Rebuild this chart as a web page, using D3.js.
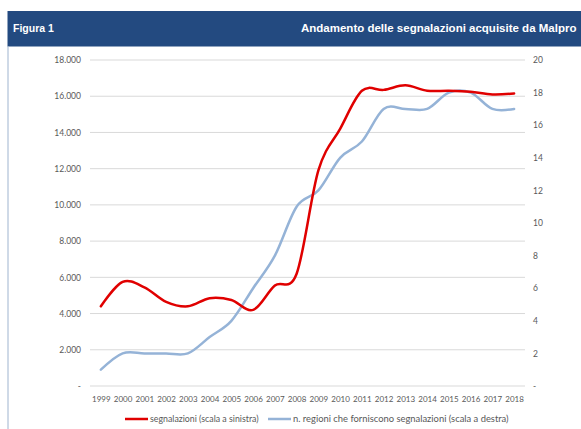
<!DOCTYPE html>
<html>
<head>
<meta charset="utf-8">
<script src="https://cdn.jsdelivr.net/npm/d3@7"></script>
<style>
  body { margin: 0; background: #fff; overflow: hidden; }
  svg { display: block; }
</style>
</head>
<body>
<div id="chart"></div>
<script>
// anni sull'asse x
const years = ["1999", "2000", "2001", "2002", "2003", "2004", "2005", "2006", "2007", "2008",
               "2009", "2010", "2011", "2012", "2013", "2014", "2015", "2016", "2017", "2018"];
// segnalazioni (scala a sinistra)
const segnalazioni = [4400, 5750, 5450, 4650, 4400, 4850, 4750, 4200, 5550, 6200,
                      11900, 14200, 16300, 16350, 16600, 16300, 16300, 16250, 16100, 16150];
// n. regioni che forniscono segnalazioni (scala a destra)
const regioni = [1, 2, 2, 2, 2, 3, 4, 6, 8, 11, 12, 14, 15, 17, 17, 17, 18, 18, 17, 17];
const leftTicks = [0, 2000, 4000, 6000, 8000, 10000, 12000, 14000, 16000, 18000];
const rightTicks = [0, 2, 4, 6, 8, 10, 12, 14, 16, 18, 20];
const legendLabels = ["segnalazioni (scala a sinistra)", "n. regioni che forniscono segnalazioni (scala a destra)"];

const width = 581, height = 429;
const red = "#e00000", blue = "#95b3d7", grey = "#595959";

const svg = d3.select("#chart").append("svg")
    .attr("width", width)
    .attr("height", height);

// header band
svg.append("rect")
    .attr("x", 7.5).attr("y", 11)
    .attr("width", width - 7.5).attr("height", 35.5)
    .attr("fill", "#234a80");
svg.append("line")
    .attr("x1", 8).attr("x2", 8)
    .attr("y1", 46).attr("y2", height)
    .attr("stroke", "#9fb4cf").attr("stroke-width", 1);

svg.append("text")
    .attr("x", 13).attr("y", 32)
    .attr("fill", "#fff")
    .style("font-family", "Liberation Sans, Arial, sans-serif")
    .style("font-weight", "bold")
    .style("font-size", "10.5px")
    .text("Figura 1");
svg.append("text")
    .attr("x", 301).attr("y", 32)
    .attr("fill", "#fff")
    .style("font-family", "Liberation Sans, Arial, sans-serif")
    .style("font-weight", "bold")
    .style("font-size", "11.5px")
    .text("Andamento delle segnalazioni acquisite da Malpro");

// scales
const x = d3.scalePoint().domain(years).range([90, 525]).padding(0.5);
const yL = d3.scaleLinear().domain([0, 18000]).range([386, 60]);
const yR = d3.scaleLinear().domain([0, 20]).range([386, 60]);

const fmt = d3.formatLocale({ decimal: ",", thousands: ".", grouping: [3], currency: ["€", ""] }).format(",");

const font = "Lato, 'Open Sans', sans-serif";

// gridlines
svg.append("g").selectAll("line")
    .data(leftTicks)
    .enter().append("line")
    .attr("x1", 90).attr("x2", 525)
    .attr("y1", d => yL(d)).attr("y2", d => yL(d))
    .attr("stroke", "#d9d9d9").attr("stroke-width", 1);

// left axis
const leftAxis = d3.axisLeft(yL).tickValues(leftTicks).tickSize(0).tickPadding(0)
    .tickFormat(d => d === 0 ? "-" : fmt(d));
const gl = svg.append("g").attr("transform", "translate(81,0)").call(leftAxis);
gl.select(".domain").remove();
gl.selectAll("text").attr("fill", grey).style("font-family", font).style("font-size", "8.5px");

// right axis
const rightAxis = d3.axisRight(yR).tickValues(rightTicks).tickSize(0).tickPadding(0)
    .tickFormat(d => d === 0 ? "-" : d);
const gr = svg.append("g").attr("transform", "translate(533,0)").call(rightAxis);
gr.select(".domain").remove();
gr.selectAll("text").attr("fill", grey).style("font-family", font).style("font-size", "8.5px");

// x axis
const xAxis = d3.axisBottom(x).tickSize(0).tickPadding(0);
const gx = svg.append("g").attr("transform", "translate(0,396)").call(xAxis);
gx.select(".domain").remove();
gx.selectAll("text").attr("fill", grey).style("font-family", font).style("font-size", "8px");

// lines
const curve = d3.curveCatmullRom.alpha(0);
const lineL = d3.line().x((d, i) => x(years[i])).y(d => yL(d)).curve(curve);
const lineR = d3.line().x((d, i) => x(years[i])).y(d => yR(d)).curve(curve);

svg.append("path")
    .attr("d", lineR(regioni))
    .attr("fill", "none")
    .attr("stroke", blue)
    .attr("stroke-width", 2.5)
    .attr("stroke-linecap", "round");
svg.append("path")
    .attr("d", lineL(segnalazioni))
    .attr("fill", "none")
    .attr("stroke", red)
    .attr("stroke-width", 2.5)
    .attr("stroke-linecap", "round");

// legend
const legend = [
    { label: legendLabels[0], color: red, x: 125, size: 8.8 },
    { label: legendLabels[1], color: blue, x: 268, size: 9.4 }
];
const lg = svg.append("g").selectAll("g").data(legend).enter().append("g")
    .attr("transform", d => `translate(${d.x},419)`);
lg.append("line")
    .attr("x1", 0).attr("x2", 23)
    .attr("stroke", d => d.color).attr("stroke-width", 2.5);
lg.append("text")
    .attr("x", 25).attr("dy", "0.32em")
    .attr("fill", grey)
    .style("font-family", font).style("font-size", d => d.size + "px")
    .text(d => d.label);
</script>
</body>
</html>
